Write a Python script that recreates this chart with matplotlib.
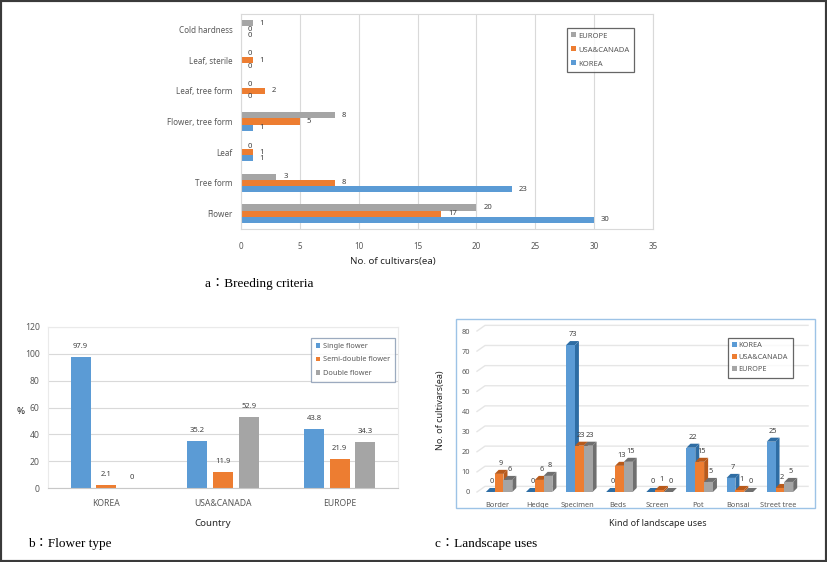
import matplotlib
matplotlib.use("Agg")
import matplotlib.pyplot as plt
from matplotlib.patches import Rectangle, Polygon, Patch
import numpy as np

plt.rcParams['font.family'] = ['Noto Sans', 'DejaVu Sans']

# ---------------- data ----------------
criteria = ['Flower', 'Tree form', 'Leaf', 'Flower, tree form',
            'Leaf, tree form', 'Leaf, sterile', 'Cold hardness']
crit_korea = [30, 23, 1, 1, 0, 0, 0]
crit_usa = [17, 8, 1, 5, 2, 1, 0]
crit_europe = [20, 3, 0, 8, 0, 0, 1]

countries = ['KOREA', 'USA&CANADA', 'EUROPE']
single_flower = [97.9, 35.2, 43.8]
semi_double = [2.1, 11.9, 21.9]
double_flower = [0, 52.9, 34.3]

uses = ['Border', 'Hedge', 'Specimen', 'Beds', 'Screen', 'Pot', 'Bonsai', 'Street tree']
use_korea = [0, 0, 73, 0, 0, 22, 7, 25]
use_usa = [9, 6, 23, 13, 1, 15, 1, 2]
use_europe = [6, 8, 23, 15, 0, 5, 0, 5]

BLUE, ORANGE, GRAY = '#5B9BD5', '#ED7D31', '#A5A5A5'
DBLUE, DORANGE, DGRAY = '#2E6DA4', '#B85A1B', '#6F6F6F'
TXT = '#595959'
GRID = '#D9D9D9'
CAPTION_FONT = ['Liberation Serif', 'Noto Sans CJK KR']

W, H = 827, 562
fig = plt.figure(figsize=(W / 100, H / 100), dpi=100)


def px_axes(left, top, right, bottom):
    return fig.add_axes([left / W, 1 - bottom / H, (right - left) / W, (bottom - top) / H])


def fx(x):
    return x / W


def fy(y):
    return 1 - y / H


# ---------------- a: breeding criteria ----------------
ax1 = px_axes(241, 14, 653, 229)
y = np.arange(len(criteria))
h = 0.2
for vals, off, col, name in [(crit_korea, -h, BLUE, 'KOREA'),
                             (crit_usa, 0, ORANGE, 'USA&CANADA'),
                             (crit_europe, h, GRAY, 'EUROPE')]:
    bars = ax1.barh(y + off, vals, height=h, color=col, label=name)
    for b, v in zip(bars, vals):
        ax1.annotate(str(v), (v, b.get_y() + h / 2), xytext=(5, 0), textcoords='offset points',
                     ha='left', va='center', fontsize=5.5, color='#404040')
ax1.set_xlim(0, 35)
ax1.set_ylim(-0.5, len(criteria) - 0.5)
ax1.set_xticks(range(0, 36, 5))
ax1.set_yticks(y)
ax1.set_yticklabels(criteria)
ax1.tick_params(length=0, labelsize=5.8, labelcolor=TXT)
ax1.tick_params(axis='x', pad=9)
ax1.tick_params(axis='y', pad=6)
ax1.grid(axis='x', color=GRID, linewidth=0.8)
ax1.set_axisbelow(True)
for s in ax1.spines.values():
    s.set_color(GRID)
    s.set_linewidth(0.8)
handles, labels = ax1.get_legend_handles_labels()
leg1 = ax1.legend(handles[::-1], labels[::-1], loc='upper left',
                  bbox_to_anchor=(fx(563), fy(24)), bbox_transform=fig.transFigure,
                  fontsize=5.5, frameon=True, fancybox=False, handlelength=0.6, handleheight=0.6,
                  handletextpad=0.3, borderpad=0.6, labelspacing=0.9, labelcolor=TXT)
leg1.get_frame().set_edgecolor('#404040')
leg1.get_frame().set_linewidth(0.9)
fig.text(fx(393), fy(262), 'No. of cultivars(ea)', ha='center', va='center',
         fontsize=7, color='#262626', fontweight='medium')
fig.text(fx(205), fy(284), 'a：Breeding criteria', ha='left', va='center', fontsize=9.5,
         family=CAPTION_FONT, color='black')

# ---------------- b: flower type ----------------
ax2 = px_axes(48, 327, 398, 488)
x = np.arange(len(countries))
wb, step = 0.17, 0.22
for vals, off, col, name in [(single_flower, -step, BLUE, 'Single flower'),
                             (semi_double, 0, ORANGE, 'Semi-double flower'),
                             (double_flower, step, GRAY, 'Double flower')]:
    bars = ax2.bar(x + off, vals, width=wb, color=col, label=name)
    for b, v in zip(bars, vals):
        ax2.annotate(str(v), (b.get_x() + wb / 2, v), xytext=(0, 5), textcoords='offset points',
                     ha='center', va='bottom', fontsize=5.5, color='#404040')
ax2.set_xlim(-0.5, 2.5)
ax2.set_ylim(0, 120)
ax2.set_yticks(range(0, 121, 20))
ax2.set_xticks(x)
ax2.set_xticklabels(countries)
ax2.tick_params(length=0, labelsize=6.2, labelcolor=TXT)
ax2.tick_params(axis='x', pad=8)
ax2.tick_params(axis='y', pad=6)
ax2.grid(axis='y', color=GRID, linewidth=0.8)
ax2.set_axisbelow(True)
for s in ax2.spines.values():
    s.set_color('#EAEAEA')
    s.set_linewidth(0.8)
ax2.spines['bottom'].set_color('#C8C8C8')
leg2 = ax2.legend(loc='upper left', bbox_to_anchor=(fx(307), fy(334)), bbox_transform=fig.transFigure,
                  fontsize=5.3, frameon=True, fancybox=False, handlelength=0.6, handleheight=0.6,
                  handletextpad=0.4, borderpad=0.7, labelspacing=0.9, labelcolor=TXT)
leg2.get_frame().set_edgecolor('#8496B0')
leg2.get_frame().set_linewidth(0.9)
fig.text(fx(21), fy(411), '%', ha='center', va='center', fontsize=7, color='#262626',
         fontweight='bold')
fig.text(fx(213), fy(524), 'Country', ha='center', va='center', fontsize=7, color='#262626',
         fontweight='medium')
fig.text(fx(28), fy(544), 'b：Flower type', ha='left', va='center', fontsize=9.5,
         family=CAPTION_FONT, color='black')

# ---------------- c: landscape uses (3D-like bars) ----------------
fig.patches.append(Rectangle((fx(456), fy(508)), (815 - 456) / W, (508 - 319) / H,
                             transform=fig.transFigure, fill=False, edgecolor='#9DC3E6',
                             linewidth=1.0))
ax3 = px_axes(477, 331, 798, 492)
n = len(uses)
xc = np.arange(n)
wc = 0.22
ddx, ddy = 0.1, 2.0      # bar depth
wdx, wdy = 0.2, 2.8      # back wall offset
ax3.set_xlim(-0.5, n - 0.5)
ax3.set_ylim(0, 80)
for g in range(0, 81, 10):
    ax3.plot([-0.5, -0.5 + wdx, n - 0.5 + 0.25], [g, g + wdy, g + wdy], color='#E6E6E6',
             linewidth=1.0, clip_on=False, zorder=0)
leg_handles = []
for vals, off, col, dcol, name in [(use_korea, -wc, BLUE, DBLUE, 'KOREA'),
                                   (use_usa, 0, ORANGE, DORANGE, 'USA&CANADA'),
                                   (use_europe, wc, GRAY, DGRAY, 'EUROPE')]:
    for i, v in enumerate(vals):
        x0 = xc[i] + off - wc / 2 + 0.05
        x1 = x0 + wc
        side = Polygon([(x1, 0), (x1, v), (x1 + ddx, v + ddy), (x1 + ddx, ddy)],
                       closed=True, facecolor=dcol, edgecolor='none', zorder=2 + i * 0.01)
        top = Polygon([(x0, v), (x1, v), (x1 + ddx, v + ddy), (x0 + ddx, v + ddy)],
                      closed=True, facecolor=dcol, edgecolor='none', zorder=2 + i * 0.01)
        ax3.add_patch(side)
        ax3.add_patch(top)
        ax3.add_patch(Rectangle((x0, 0), wc, v, facecolor=col, edgecolor='none',
                                zorder=2.005 + i * 0.01))
        ax3.annotate(str(v), (x0 + wc / 2 + ddx / 2, v + ddy), xytext=(0, 2),
                     textcoords='offset points', ha='center', va='bottom',
                     fontsize=5.3, color='#404040', zorder=5)
    leg_handles.append(Patch(facecolor=col, label=name))
ax3.set_xticks(xc)
ax3.set_xticklabels(uses)
ax3.set_yticks(range(0, 81, 10))
ax3.tick_params(length=0, labelsize=5.3, labelcolor=TXT)
ax3.tick_params(axis='x', pad=7)
ax3.tick_params(axis='y', pad=5)
for s in ax3.spines.values():
    s.set_visible(False)
leg3 = ax3.legend(handles=leg_handles, loc='upper left', bbox_to_anchor=(fx(724), fy(334)),
                  bbox_transform=fig.transFigure,
                  fontsize=5.3, frameon=True, fancybox=False, handlelength=0.6, handleheight=0.6,
                  handletextpad=0.3, borderpad=0.6, labelspacing=0.7, labelcolor=TXT)
leg3.get_frame().set_edgecolor('#404040')
leg3.get_frame().set_linewidth(0.9)
fig.text(fx(440), fy(410), 'No. of cultivars(ea)', ha='center', va='center', rotation=90,
         fontsize=6.5, color='#262626', fontweight='bold')
fig.text(fx(658), fy(523), 'Kind of landscape uses', ha='center', va='center', fontsize=6.5,
         color='#262626', fontweight='medium')
fig.text(fx(435), fy(544), 'c：Landscape uses', ha='left', va='center', fontsize=9.5,
         family=CAPTION_FONT, color='black')

# outer frame
fig.patches.append(Rectangle((0, 0), 1, 1, transform=fig.transFigure, fill=False,
                             edgecolor='#3A3A3A', linewidth=3.0))

fig.savefig('out.png', dpi=100)
